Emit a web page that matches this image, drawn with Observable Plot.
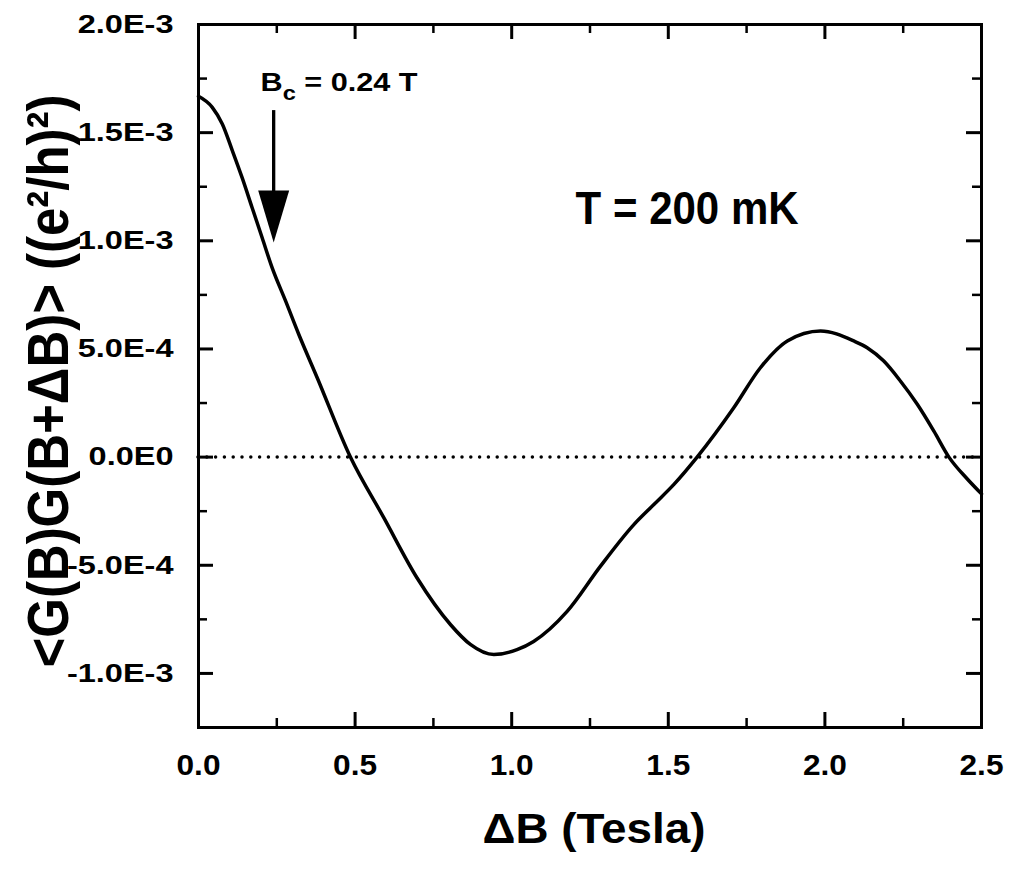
<!DOCTYPE html>
<html>
<head>
<meta charset="utf-8">
<script src="https://cdn.jsdelivr.net/npm/d3@7"></script>
<script src="https://cdn.jsdelivr.net/npm/@observablehq/plot@0.6"></script>
<style>
  html, body { margin: 0; padding: 0; background: #fff; }
  #chart svg { display: block; }
</style>
</head>
<body>
<div id="chart"></div>
<script>
// ---- data ----
const dB = [0, 0.044, 0.076, 0.108, 0.139, 0.171, 0.203, 0.235, 0.278, 0.32, 0.379, 0.485, 0.592, 0.698, 0.805, 0.868, 0.943, 1.017, 1.07, 1.177, 1.283, 1.39, 1.454, 1.518, 1.592, 1.709, 1.794, 1.88, 1.986, 2.092, 2.135, 2.188, 2.241, 2.295, 2.348, 2.396, 2.454, 2.5];
const corr = [1.668e-3, 1.617e-3, 1.540e-3, 1.417e-3, 1.293e-3, 1.154e-3, 1.015e-3, 0.876e-3, 0.722e-3, 0.568e-3, 0.367e-3, 0.0, -0.281e-3, -0.559e-3, -0.775e-3, -0.866e-3, -0.913e-3, -0.89e-3, -0.852e-3, -0.713e-3, -0.505e-3, -0.312e-3, -0.219e-3, -0.126e-3, 0.0, 0.228e-3, 0.413e-3, 0.537e-3, 0.583e-3, 0.537e-3, 0.506e-3, 0.444e-3, 0.352e-3, 0.244e-3, 0.120e-3, 0.0, -0.1e-3, -0.17e-3];

const xMajor = [0, 0.5, 1.0, 1.5, 2.0, 2.5];
const xTickLabels = ["0.0", "0.5", "1.0", "1.5", "2.0", "2.5"];
const xMinor = [0.25, 0.75, 1.25, 1.75, 2.25];
const yMajor = [-1e-3, -5e-4, 0, 5e-4, 1e-3, 1.5e-3, 2e-3];
const yTickLabels = ["-1.0E-3", "-5.0E-4", "0.0E0", "5.0E-4", "1.0E-3", "1.5E-3", "2.0E-3"];
const yMinor = [-0.75e-3, -0.25e-3, 0.25e-3, 0.75e-3, 1.25e-3, 1.75e-3];
const zeroLine = [0];

// annotations
const arrowX = [0.24];
const arrowTop = [1.602e-3];
const arrowBase = [1.2e-3];
const arrowTip = [0.992e-3];
const bcLabel = ["Bc = 0.24 T"];
const bcX = [0.198];
const bcY = [1.694e-3];
const tempLabel = ["T = 200 mK"];
const tempX = [1.204];
const tempY = [1.079e-3];
const xTitle = ["ΔB (Tesla)"];
const yTitle = ["<G(B)G(B+ΔB)> ((e²/h)²)"];

const data = dB.map((x, i) => ({x, y: corr[i]}));

// ---- layout ----
const WIDTH = 1013, HEIGHT = 869;
const mL = 198, mR = 32, mT = 24, mB = 142;
const H = HEIGHT - mT - mB, W = WIDTH - mL - mR;
const MAJ = 15, MIN = 9;

const headShape = {
  draw(ctx) {
    ctx.moveTo(0, 0);
    ctx.lineTo(-15.5, -52);
    ctx.lineTo(15.5, -52);
    ctx.closePath();
  }
};

const font = "'Liberation Sans', Arial, Helvetica, sans-serif";

const chart = Plot.plot({
  width: WIDTH,
  height: HEIGHT,
  marginLeft: mL, marginRight: mR, marginTop: mT, marginBottom: mB,
  style: {fontFamily: font, fontWeight: "bold", background: "#fff", color: "#000"},
  x: {domain: [0, 2.5]},
  y: {domain: [-1.25e-3, 2.0e-3]},
  marks: [
    Plot.axisX({ticks: xMajor, tickSize: 0, tickPadding: 27, fontSize: 29, label: null,
      tickFormat: d => xTickLabels[xMajor.indexOf(d)]}),
    Plot.axisY({ticks: yMajor, tickSize: 0, tickPadding: 25, fontSize: 26, label: null,
      tickFormat: d => yTickLabels[yMajor.indexOf(d)]}),
    Plot.ruleY(zeroLine, {y: d => d, stroke: "#000", strokeWidth: 3.5, strokeDasharray: "0,8.8", strokeLinecap: "round"}),
    Plot.line(data, {x: "x", y: "y", curve: "monotone-x", stroke: "#000", strokeWidth: 3.5}),
    Plot.tickX(xMajor, {x: d => d, stroke: "#000", strokeWidth: 3, insetTop: H - MAJ}),
    Plot.tickX(xMinor, {x: d => d, stroke: "#000", strokeWidth: 2.5, insetTop: H - MIN}),
    Plot.tickX(xMajor, {x: d => d, stroke: "#000", strokeWidth: 3, insetBottom: H - MAJ}),
    Plot.tickX(xMinor, {x: d => d, stroke: "#000", strokeWidth: 2.5, insetBottom: H - MIN}),
    Plot.tickY(yMajor, {y: d => d, stroke: "#000", strokeWidth: 3, insetRight: W - MAJ}),
    Plot.tickY(yMinor, {y: d => d, stroke: "#000", strokeWidth: 2.5, insetRight: W - MIN}),
    Plot.tickY(yMajor, {y: d => d, stroke: "#000", strokeWidth: 3, insetLeft: W - MAJ}),
    Plot.tickY(yMinor, {y: d => d, stroke: "#000", strokeWidth: 2.5, insetLeft: W - MIN}),
    Plot.frame({stroke: "#000", strokeWidth: 3}),
    Plot.ruleX(arrowX, {x: d => d, y1: arrowTop[0], y2: arrowBase[0], stroke: "#000", strokeWidth: 3.3}),
    Plot.dot(arrowX, {x: d => d, y: () => arrowTip[0], symbol: headShape, fill: "#000", stroke: "none", r: 10}),
    Plot.text(bcLabel, {x: () => bcX[0], y: () => bcY[0], text: d => d, textAnchor: "start", lineAnchor: "bottom", fontSize: 26, fontWeight: "bold", fill: "#000"}),
    Plot.text(tempLabel, {x: () => tempX[0], y: () => tempY[0], text: d => d, textAnchor: "start", lineAnchor: "bottom", fontSize: 46, fontWeight: "bold", fill: "#000"}),
    Plot.text(xTitle, {frameAnchor: "bottom", text: d => d, dy: 115, dx: 4, textAnchor: "middle", lineAnchor: "bottom", fontSize: 42, fontWeight: "bold", fill: "#000"}),
    Plot.text(yTitle, {frameAnchor: "left", text: d => d, dx: -131, dy: 5, rotate: -90, textAnchor: "middle", lineAnchor: "bottom", fontSize: 58, fontWeight: "bold", fill: "#000"})
  ]
});

document.getElementById("chart").appendChild(chart);

// ---- text fitting to match the reference's glyph proportions ----
const svgNS = "http://www.w3.org/2000/svg";
function stretch(el, ratio) {
  const len = el.getComputedTextLength();
  el.setAttribute("textLength", (len * ratio).toFixed(1));
  el.setAttribute("lengthAdjust", "spacingAndGlyphs");
}
function fit(el, target) {
  el.setAttribute("textLength", target);
  el.setAttribute("lengthAdjust", "spacingAndGlyphs");
}
chart.querySelectorAll('g[aria-label="y-axis tick label"] text').forEach(t => stretch(t, 1.25));
chart.querySelectorAll('g[aria-label="x-axis tick label"] text').forEach(t => stretch(t, 1.09));

chart.querySelectorAll("text").forEach(t => {
  const s = t.textContent;
  if (s === bcLabel[0]) {
    t.textContent = "";
    t.appendChild(document.createTextNode("B"));
    const sub = document.createElementNS(svgNS, "tspan");
    sub.setAttribute("dy", "9");
    sub.setAttribute("font-size", "20");
    sub.textContent = "c";
    t.appendChild(sub);
    const rest = document.createElementNS(svgNS, "tspan");
    rest.setAttribute("dy", "-9");
    rest.textContent = " = 0.24 T";
    t.appendChild(rest);
    fit(t, 157);
  } else if (s === tempLabel[0]) {
    fit(t, 223);
  } else if (s === xTitle[0]) {
    fit(t, 223);
  } else if (s === yTitle[0]) {
    fit(t, 573);
  }
});
</script>
</body>
</html>
